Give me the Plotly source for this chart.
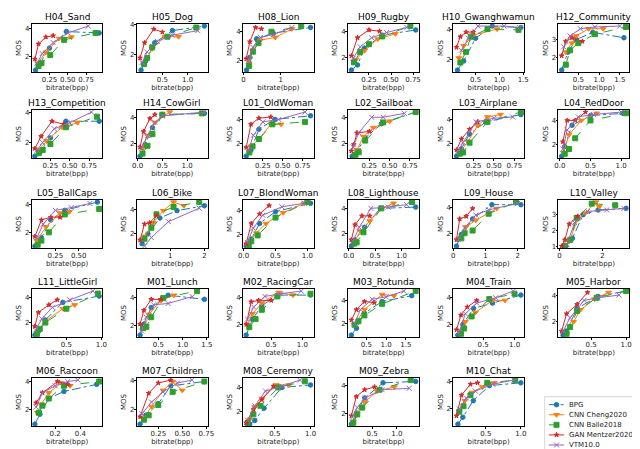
"""
MOS vs bitrate for each test image, five codecs per panel
"""
import plotly.graph_objects as go

METHODS = ["BPG", "CNN Cheng2020", "CNN Balle2018", "GAN Mentzer2020", "VTM10.0"]

# each image: one (bitrate, MOS) pair of lists per method, in METHODS order
H04_SAND = [
    ([0.06, 0.12, 0.25, 0.48, 0.93], [1.0, 1.5, 2.6, 3.8, 3.7]),
    ([0.09, 0.20, 0.38, 0.55], [1.5, 2.3, 3.3, 3.4]),
    ([0.10, 0.14, 0.26, 0.45, 0.88], [1.3, 1.5, 2.1, 3.2, 3.7]),
    ([0.05, 0.10, 0.20, 0.30], [1.8, 2.9, 3.4, 3.5]),
    ([0.08, 0.15, 0.30, 0.50, 0.78], [1.5, 2.2, 3.0, 3.7, 4.2]),
]
H05_DOG = [
    ([0.08, 0.17, 0.35, 0.70, 1.33], [1.0, 1.6, 2.8, 3.6, 3.9]),
    ([0.13, 0.30, 0.55, 0.82], [1.4, 2.4, 3.2, 3.2]),
    ([0.14, 0.20, 0.30, 0.60, 1.17], [1.4, 1.8, 2.5, 3.2, 3.8]),
    ([0.06, 0.15, 0.33, 0.50], [1.8, 2.8, 3.7, 3.5]),
    ([0.10, 0.20, 0.40, 0.70, 1.20], [1.5, 2.2, 2.9, 3.3, 3.6]),
]
H08_LION = [
    ([0.08, 0.17, 0.35, 0.80, 1.80], [1.3, 2.2, 3.5, 3.9, 4.3]),
    ([0.15, 0.25, 0.45, 0.85, 1.30], [1.8, 2.7, 3.4, 3.6, 4.2]),
    ([0.15, 0.25, 0.40, 0.75, 1.55], [1.6, 2.6, 3.2, 4.0, 4.4]),
    ([0.07, 0.17, 0.32, 0.48], [2.1, 3.3, 4.3, 4.2]),
    ([0.12, 0.25, 0.45, 0.80, 1.30], [1.9, 2.9, 3.6, 3.8, 4.3]),
]
H09_RUGBY = [
    ([0.05, 0.12, 0.20, 0.40, 0.78], [1.0, 1.4, 2.7, 3.7, 4.1]),
    ([0.10, 0.20, 0.35, 0.55], [1.8, 2.5, 3.4, 3.8]),
    ([0.08, 0.15, 0.25, 0.40, 0.72], [1.6, 2.4, 3.0, 3.6, 4.4]),
    ([0.05, 0.12, 0.25, 0.37], [2.1, 3.5, 4.1, 4.0]),
    ([0.07, 0.15, 0.28, 0.45, 0.68], [1.9, 2.8, 3.5, 3.9, 4.3]),
]
H10_GWANGHWAMUN = [
    ([0.12, 0.25, 0.50, 0.85, 1.45], [1.3, 1.9, 3.4, 4.2, 4.1]),
    ([0.15, 0.25, 0.45, 0.95], [2.1, 2.9, 3.6, 4.0]),
    ([0.18, 0.30, 0.40, 0.75, 1.40], [1.8, 2.5, 3.5, 4.0, 3.95]),
    ([0.10, 0.18, 0.30, 0.45], [2.8, 3.5, 3.8, 3.8]),
    ([0.20, 0.35, 0.55, 1.10, 1.42], [2.6, 3.4, 4.2, 4.2, 4.1]),
]
H12_COMMUNITY = [
    ([0.10, 0.25, 0.45, 0.85, 1.60], [1.3, 2.3, 3.0, 3.4, 3.1]),
    ([0.20, 0.35, 0.45, 0.75, 1.10], [2.3, 2.8, 3.2, 3.6, 3.6]),
    ([0.20, 0.30, 0.50, 0.90, 1.65], [1.6, 2.4, 2.8, 3.3, 3.7]),
    ([0.10, 0.20, 0.35, 0.60], [2.1, 2.9, 3.1, 2.9]),
    ([0.15, 0.30, 0.55, 0.90, 1.50], [2.6, 3.2, 3.6, 3.7, 3.75]),
]
H13_COMPETITION = [
    ([0.05, 0.12, 0.25, 0.45, 0.88], [1.1, 1.4, 2.3, 3.4, 3.4]),
    ([0.10, 0.20, 0.40, 0.60], [1.5, 2.1, 3.0, 3.3]),
    ([0.10, 0.15, 0.25, 0.45, 0.85], [1.3, 1.5, 1.9, 3.0, 3.7]),
    ([0.05, 0.13, 0.27, 0.42], [1.6, 2.4, 3.4, 3.2]),
    ([0.08, 0.15, 0.30, 0.50, 0.78], [1.5, 2.0, 2.9, 3.3, 4.0]),
]
H14_COWGIRL = [
    ([0.05, 0.15, 0.30, 0.50, 1.35], [1.0, 1.9, 3.2, 4.2, 4.3]),
    ([0.10, 0.20, 0.35, 0.65], [1.6, 2.6, 3.6, 4.4]),
    ([0.10, 0.20, 0.30, 0.50, 1.30], [1.2, 1.8, 2.7, 4.2, 4.3]),
    ([0.05, 0.12, 0.25, 0.35], [1.7, 2.9, 3.9, 4.2]),
    ([0.08, 0.20, 0.35, 0.50, 1.35], [1.6, 2.6, 3.6, 4.1, 4.4]),
]
L01_OLDWOMAN = [
    ([0.04, 0.10, 0.20, 0.40, 0.85], [1.0, 1.5, 3.2, 4.0, 4.3]),
    ([0.10, 0.20, 0.35, 0.48], [1.8, 2.4, 3.6, 3.6]),
    ([0.08, 0.12, 0.20, 0.37, 0.78], [1.3, 1.8, 2.4, 3.6, 3.8]),
    ([0.04, 0.10, 0.20, 0.35], [1.7, 3.6, 4.1, 4.2]),
    ([0.07, 0.13, 0.25, 0.45, 0.78], [1.5, 2.7, 3.8, 4.0, 4.6]),
]
L02_SAILBOAT = [
    ([0.04, 0.10, 0.20, 0.40, 0.82], [1.0, 1.4, 2.4, 3.5, 4.4]),
    ([0.10, 0.18, 0.30, 0.50], [1.5, 2.5, 3.2, 3.7]),
    ([0.08, 0.12, 0.20, 0.42, 0.82], [1.1, 1.3, 2.2, 3.6, 4.4]),
    ([0.03, 0.06, 0.10, 0.25], [1.4, 1.9, 2.8, 2.9]),
    ([0.05, 0.12, 0.28, 0.42, 0.68], [1.7, 2.8, 4.0, 4.0, 4.3]),
]
L03_AIRPLANE = [
    ([0.04, 0.10, 0.20, 0.40, 0.83], [1.0, 1.6, 2.8, 3.8, 4.4]),
    ([0.08, 0.18, 0.30, 0.42, 0.58], [1.3, 2.2, 3.5, 4.2, 4.4]),
    ([0.08, 0.12, 0.20, 0.42, 0.83], [1.2, 1.3, 2.1, 3.8, 4.6]),
    ([0.04, 0.10, 0.20, 0.30], [1.5, 2.4, 3.2, 3.8]),
    ([0.06, 0.12, 0.28, 0.50, 0.73], [1.4, 2.1, 3.8, 4.1, 4.2]),
]
L04_REDDOOR = [
    ([0.03, 0.08, 0.20, 0.50, 1.03], [1.0, 1.8, 3.6, 4.4, 4.6]),
    ([0.06, 0.15, 0.35, 0.60], [1.3, 2.8, 4.0, 4.6]),
    ([0.08, 0.15, 0.25, 0.50, 1.08], [1.2, 1.6, 2.5, 4.0, 4.6]),
    ([0.05, 0.12, 0.25, 0.42], [2.2, 4.0, 4.0, 4.7]),
    ([0.05, 0.12, 0.30, 0.55, 1.00], [1.6, 3.2, 4.3, 4.5, 4.7]),
]
L05_BALLCAPS = [
    ([0.03, 0.10, 0.20, 0.35, 0.70], [1.0, 1.6, 2.9, 3.6, 4.2]),
    ([0.05, 0.15, 0.30, 0.40], [1.4, 2.4, 3.4, 3.5]),
    ([0.06, 0.10, 0.18, 0.35, 0.72], [1.1, 1.4, 2.0, 3.3, 3.7]),
    ([0.03, 0.10, 0.20, 0.30], [1.7, 2.9, 3.1, 3.1]),
    ([0.05, 0.12, 0.25, 0.42, 0.62], [1.6, 2.6, 3.6, 3.8, 4.1]),
]
L06_BIKE = [
    ([0.18, 0.35, 0.70, 1.20, 2.00], [1.2, 2.0, 3.3, 3.9, 4.3]),
    ([0.25, 0.50, 0.80, 1.10, 1.40], [1.8, 2.9, 3.9, 4.6, 4.3]),
    ([0.25, 0.45, 0.60, 1.10, 1.85], [1.6, 2.5, 3.6, 4.2, 4.6]),
    ([0.12, 0.25, 0.40, 0.60], [1.5, 2.8, 2.9, 3.5]),
    ([0.25, 0.45, 0.95, 1.85], [1.0, 1.7, 3.0, 4.1]),
]
L07_BLONDWOMAN = [
    ([0.04, 0.12, 0.25, 0.50, 1.05], [1.0, 1.6, 2.9, 3.9, 4.6]),
    ([0.08, 0.20, 0.35, 0.62, 0.95], [1.3, 2.1, 2.9, 3.8, 4.6]),
    ([0.08, 0.12, 0.22, 0.50, 1.00], [1.0, 1.4, 1.9, 3.4, 4.7]),
    ([0.04, 0.12, 0.25, 0.40], [1.2, 2.9, 3.7, 4.4]),
    ([0.06, 0.15, 0.30, 0.60, 0.95], [1.3, 2.5, 3.6, 4.3, 4.6]),
]
L08_LIGHTHOUSE = [
    ([0.05, 0.12, 0.30, 0.60, 1.27], [1.0, 1.5, 2.5, 4.0, 4.1]),
    ([0.12, 0.22, 0.40, 0.62, 0.85], [1.4, 2.2, 3.0, 4.0, 4.4]),
    ([0.10, 0.15, 0.28, 0.62, 1.20], [1.2, 1.3, 2.1, 4.0, 4.5]),
    ([0.05, 0.12, 0.25, 0.40], [1.5, 2.7, 3.4, 3.4]),
    ([0.08, 0.20, 0.42, 0.75, 1.10], [1.4, 2.5, 4.0, 4.1, 4.3]),
]
L09_HOUSE = [
    ([0.10, 0.25, 0.60, 1.20, 2.10], [1.0, 1.9, 3.1, 4.2, 4.2]),
    ([0.20, 0.40, 0.70, 1.35], [1.6, 2.5, 3.0, 3.9]),
    ([0.25, 0.35, 0.60, 1.10, 1.95], [1.6, 2.0, 2.2, 3.5, 4.4]),
    ([0.10, 0.20, 0.40, 0.60], [1.5, 3.1, 3.3, 3.9]),
    ([0.15, 0.35, 0.70, 1.10, 2.00], [1.5, 2.4, 3.4, 3.8, 4.3]),
]
L10_VALLEY = [
    ([0.30, 0.60, 1.10, 1.80, 3.10], [1.0, 1.5, 3.0, 3.3, 3.4]),
    ([0.45, 0.85, 1.20, 1.70, 1.85], [1.3, 2.7, 3.1, 3.8, 3.5]),
    ([0.25, 0.50, 0.80, 1.50, 2.60], [1.0, 1.4, 2.8, 3.7, 3.6]),
    ([0.10, 0.25, 0.45, 0.85], [1.0, 1.4, 2.4, 2.9]),
    ([0.35, 0.70, 1.30, 2.20, 3.00], [1.1, 2.5, 3.2, 3.3, 3.4]),
]
L11_LITTLEGIRL = [
    ([0.05, 0.10, 0.20, 0.45, 0.97], [1.0, 1.3, 2.2, 3.6, 4.1]),
    ([0.08, 0.20, 0.45, 0.62], [1.2, 2.1, 3.1, 3.4]),
    ([0.08, 0.12, 0.20, 0.50, 0.95], [1.1, 1.5, 2.0, 3.1, 4.3]),
    ([0.05, 0.10, 0.25, 0.37], [1.7, 2.8, 3.4, 3.8]),
    ([0.06, 0.15, 0.30, 0.55, 0.88], [1.4, 2.3, 3.2, 3.8, 4.5]),
]
M01_LUNCH = [
    ([0.12, 0.20, 0.35, 0.70, 1.45], [1.3, 2.1, 3.3, 4.2, 3.9]),
    ([0.20, 0.30, 0.55, 0.82], [1.8, 2.8, 3.8, 4.2]),
    ([0.18, 0.25, 0.35, 0.60, 1.30], [1.8, 1.9, 2.6, 4.0, 4.5]),
    ([0.12, 0.20, 0.35, 0.55], [2.1, 3.1, 3.9, 3.9]),
    ([0.15, 0.25, 0.40, 0.70, 1.20], [1.6, 2.6, 3.5, 3.6, 4.1]),
]
M02_RACINGCAR = [
    ([0.10, 0.20, 0.35, 0.60, 1.13], [1.2, 2.4, 3.4, 4.2, 4.2]),
    ([0.12, 0.20, 0.35, 0.62, 0.85], [2.0, 2.8, 3.6, 4.4, 4.2]),
    ([0.15, 0.25, 0.35, 0.60, 1.13], [1.8, 2.4, 3.1, 4.1, 4.3]),
    ([0.10, 0.18, 0.30, 0.50], [2.0, 3.7, 3.8, 3.8]),
    ([0.12, 0.22, 0.40, 0.65, 0.98], [2.4, 3.3, 4.1, 4.3, 4.5]),
]
M03_ROTUNDA = [
    ([0.12, 0.25, 0.45, 0.90, 1.65], [1.0, 1.6, 2.9, 3.9, 4.4]),
    ([0.20, 0.45, 0.90, 1.20], [1.9, 3.2, 4.5, 4.4]),
    ([0.20, 0.30, 0.45, 0.90, 1.75], [1.9, 2.2, 2.7, 3.7, 4.8]),
    ([0.12, 0.25, 0.45, 0.70], [2.3, 3.2, 3.9, 3.8]),
    ([0.20, 0.35, 0.65, 1.00, 1.45], [2.0, 3.2, 4.1, 4.3, 4.8]),
]
M04_TRAIN = [
    ([0.10, 0.18, 0.35, 0.65, 1.10], [1.2, 2.0, 3.2, 3.6, 4.2]),
    ([0.15, 0.22, 0.38, 0.65, 0.85], [1.5, 2.2, 2.9, 3.8, 3.8]),
    ([0.15, 0.20, 0.32, 0.60, 1.00], [1.3, 1.7, 2.6, 3.9, 4.3]),
    ([0.08, 0.15, 0.25, 0.40], [1.6, 2.7, 3.3, 3.8]),
    ([0.12, 0.22, 0.40, 0.70, 0.98], [1.4, 2.8, 3.6, 4.0, 4.5]),
]
M05_HARBOR = [
    ([0.10, 0.15, 0.30, 0.60, 1.00], [1.0, 1.3, 3.0, 3.9, 4.3]),
    ([0.15, 0.25, 0.35, 0.55, 0.75], [1.1, 2.0, 2.9, 3.7, 4.2]),
    ([0.15, 0.20, 0.30, 0.58, 1.00], [1.1, 1.6, 2.8, 3.8, 4.3]),
    ([0.08, 0.15, 0.30, 0.45], [1.3, 2.6, 3.3, 4.2]),
    ([0.10, 0.20, 0.40, 0.60, 0.90], [1.3, 2.3, 3.6, 3.8, 4.0]),
]
M06_RACCOON = [
    ([0.04, 0.08, 0.15, 0.27, 0.53], [1.0, 1.7, 2.8, 3.3, 3.8]),
    ([0.06, 0.09, 0.15, 0.25, 0.32], [1.8, 2.4, 3.2, 3.9, 3.7]),
    ([0.07, 0.10, 0.15, 0.27, 0.55], [1.8, 2.3, 2.8, 3.7, 4.0]),
    ([0.05, 0.10, 0.22, 0.30], [2.5, 3.2, 4.0, 3.8]),
    ([0.05, 0.10, 0.20, 0.30, 0.38], [2.2, 3.2, 3.7, 4.0, 4.1]),
]
M07_CHILDREN = [
    ([0.06, 0.12, 0.25, 0.38, 0.73], [1.0, 1.6, 2.4, 3.6, 3.9]),
    ([0.10, 0.18, 0.30, 0.40, 0.50], [1.4, 2.2, 3.3, 3.9, 3.3]),
    ([0.10, 0.15, 0.25, 0.40, 0.73], [1.3, 1.6, 2.3, 3.2, 3.9]),
    ([0.06, 0.15, 0.25, 0.38], [1.5, 3.1, 3.8, 4.0]),
    ([0.08, 0.18, 0.30, 0.45, 0.60], [1.7, 2.5, 3.2, 3.8, 4.0]),
]
M08_CEREMONY = [
    ([0.15, 0.22, 0.35, 0.60, 1.00], [1.0, 1.3, 2.3, 4.0, 4.2]),
    ([0.15, 0.22, 0.32, 0.52, 0.70], [1.4, 2.4, 3.1, 4.2, 4.2]),
    ([0.12, 0.20, 0.30, 0.55, 0.92], [1.1, 1.8, 2.5, 4.0, 4.5]),
    ([0.10, 0.20, 0.32, 0.48], [1.1, 2.2, 3.0, 4.1]),
    ([0.12, 0.22, 0.37, 0.60, 0.85], [1.3, 2.5, 3.7, 4.1, 4.6]),
]
M09_ZEBRA = [
    ([0.08, 0.18, 0.35, 0.72, 1.38], [1.2, 2.0, 3.1, 4.2, 4.3]),
    ([0.12, 0.20, 0.35, 0.60, 0.95], [1.4, 2.0, 2.8, 3.6, 3.9]),
    ([0.12, 0.20, 0.30, 0.65, 1.28], [1.3, 1.9, 2.4, 3.7, 4.4]),
    ([0.08, 0.18, 0.35, 0.55], [1.8, 3.2, 3.7, 3.9]),
    ([0.10, 0.20, 0.35, 0.70, 1.25], [1.7, 2.4, 3.1, 3.7, 3.8]),
]
M10_CHAT = [
    ([0.10, 0.17, 0.32, 0.55, 1.00], [0.9, 1.4, 2.6, 3.7, 3.9]),
    ([0.12, 0.20, 0.30, 0.45, 0.62], [1.8, 2.6, 3.2, 3.6, 3.9]),
    ([0.12, 0.18, 0.28, 0.52, 0.92], [1.8, 2.2, 3.0, 3.9, 4.1]),
    ([0.08, 0.15, 0.28, 0.38], [1.5, 3.0, 3.8, 3.9]),
    ([0.12, 0.22, 0.35, 0.60, 0.90], [2.0, 2.8, 3.3, 3.8, 4.1]),
]

IMAGES = [
    ("H04_Sand", H04_SAND), ("H05_Dog", H05_DOG), ("H08_Lion", H08_LION),
    ("H09_Rugby", H09_RUGBY), ("H10_Gwanghwamun", H10_GWANGHWAMUN),
    ("H12_Community", H12_COMMUNITY), ("H13_Competition", H13_COMPETITION),
    ("H14_CowGirl", H14_COWGIRL), ("L01_OldWoman", L01_OLDWOMAN),
    ("L02_Sailboat", L02_SAILBOAT), ("L03_Airplane", L03_AIRPLANE),
    ("L04_RedDoor", L04_REDDOOR), ("L05_BallCaps", L05_BALLCAPS),
    ("L06_Bike", L06_BIKE), ("L07_BlondWoman", L07_BLONDWOMAN),
    ("L08_Lighthouse", L08_LIGHTHOUSE), ("L09_House", L09_HOUSE),
    ("L10_Valley", L10_VALLEY), ("L11_LittleGirl", L11_LITTLEGIRL),
    ("M01_Lunch", M01_LUNCH), ("M02_RacingCar", M02_RACINGCAR),
    ("M03_Rotunda", M03_ROTUNDA), ("M04_Train", M04_TRAIN),
    ("M05_Harbor", M05_HARBOR), ("M06_Raccoon", M06_RACCOON),
    ("M07_Children", M07_CHILDREN), ("M08_Ceremony", M08_CEREMONY),
    ("M09_Zebra", M09_ZEBRA), ("M10_Chat", M10_CHAT),
]

# x tick labels per panel (matplotlib picked these)
XTICKS = {
    "H04_Sand": ["0.25", "0.50", "0.75"], "H05_Dog": ["0.5", "1.0"],
    "H08_Lion": ["0", "1"], "H09_Rugby": ["0.25", "0.50", "0.75"],
    "H10_Gwanghwamun": ["0.5", "1.0", "1.5"], "H12_Community": ["0.5", "1.0", "1.5"],
    "H13_Competition": ["0.25", "0.50", "0.75"], "H14_CowGirl": ["0.0", "0.5", "1.0"],
    "L01_OldWoman": ["0.25", "0.50", "0.75"], "L02_Sailboat": ["0.25", "0.50", "0.75"],
    "L03_Airplane": ["0.25", "0.50", "0.75"], "L04_RedDoor": ["0.0", "0.5", "1.0"],
    "L05_BallCaps": ["0.25", "0.50"], "L06_Bike": ["1", "2"],
    "L07_BlondWoman": ["0.0", "0.5", "1.0"], "L08_Lighthouse": ["0.0", "0.5", "1.0"],
    "L09_House": ["0", "1", "2"], "L10_Valley": ["0", "2"],
    "L11_LittleGirl": ["0.5", "1.0"], "M01_Lunch": ["0.5", "1.0", "1.5"],
    "M02_RacingCar": ["0.5", "1.0"], "M03_Rotunda": ["0.5", "1.0", "1.5"],
    "M04_Train": ["0.5", "1.0"], "M05_Harbor": ["0.5", "1.0"],
    "M06_Raccoon": ["0.2", "0.4"], "M07_Children": ["0.25", "0.50", "0.75"],
    "M08_Ceremony": ["0.5", "1.0"], "M09_Zebra": ["0.5", "1.0"],
    "M10_Chat": ["0.5", "1.0"],
}
YTICKS = {"H12_Community": ["2", "3"], "L10_Valley": ["1", "2", "3"]}
DEFAULT_YTICKS = ["2", "4"]

# styles
COLORS = ["#1f77b4", "#ff7f0e", "#2ca02c", "#d62728", "#9467bd"]
SYMBOLS = ["circle", "triangle-down", "square", "star", "x-thin-open"]
MSIZES = [4.5, 5, 5, 3.5, 5]
DASHES = ["dashdot", "solid", "dash", "solid", "solid"]

W, H = 640, 449
COL_LEFT = [19, 126, 234, 341, 448, 555]
AX_W = 72
ROW_TOP = [13, 100, 191, 281, 371]
AX_H = 49
FONT = "DejaVu Sans"
TXT = "#222222"


def padded(vals):
    lo, hi = min(vals), max(vals)
    m = (hi - lo) * 0.05
    return [lo - m, hi + m]


fig = go.Figure()
layout = {}
annotations = []
shapes = []

common = dict(showgrid=False, zeroline=False, showline=True, mirror=True,
              linecolor="black", linewidth=0.8, ticks="outside", ticklen=2,
              tickwidth=0.8, tickcolor="black", ticklabelstandoff=-2,
              tickfont=dict(size=7, family=FONT, color=TXT))

for i, (name, series) in enumerate(IMAGES):
    r, c = divmod(i, 6)
    k = "" if i == 0 else str(i + 1)
    x0 = COL_LEFT[c] / W
    x1 = (COL_LEFT[c] + AX_W) / W
    y1 = 1 - ROW_TOP[r] / H
    y0 = 1 - (ROW_TOP[r] + AX_H) / H

    all_x, all_y = [], []
    for m, (xs, ys) in enumerate(series):
        all_x += xs
        all_y += ys
        fig.add_trace(go.Scatter(
            x=xs, y=ys, mode="lines+markers", name=METHODS[m],
            xaxis="x" + k, yaxis="y" + k, showlegend=False,
            line=dict(color=COLORS[m], width=1, dash=DASHES[m]),
            marker=dict(color=COLORS[m], symbol=SYMBOLS[m], size=MSIZES[m],
                        line=dict(color=COLORS[m], width=1)),
        ))

    xt = XTICKS[name]
    yt = YTICKS.get(name, DEFAULT_YTICKS)
    layout["xaxis" + k] = dict(
        common, domain=[x0, x1], anchor="y" + k, range=padded(all_x),
        tickvals=[float(t) for t in xt], ticktext=xt,
        title=dict(text="bitrate(bpp)", standoff=0,
                   font=dict(size=7, family=FONT, color=TXT)),
    )
    layout["yaxis" + k] = dict(
        common, domain=[y0, y1], anchor="x" + k, range=padded(all_y),
        tickvals=[float(t) for t in yt], ticktext=yt,
        title=dict(text="MOS", standoff=2,
                   font=dict(size=7, family=FONT, color=TXT)),
    )
    annotations.append(dict(
        text=name, x=(x0 + x1) / 2, y=y1, xref="paper", yref="paper",
        xanchor="center", yanchor="bottom", showarrow=False, yshift=0,
        font=dict(size=9, family=FONT, color="black"),
    ))

# legend drawn on its own small hidden axis so the rows can sit tight
lg = str(len(IMAGES) + 1)
layout["xaxis" + lg] = dict(domain=[545 / W, 561 / W], anchor="y" + lg,
                            range=[0, 1], visible=False, fixedrange=True)
layout["yaxis" + lg] = dict(domain=[1 - 445 / H, 1 - 392 / H], anchor="x" + lg,
                            range=[len(METHODS) - 0.4, -0.6], visible=False,
                            fixedrange=True)
for m, meth in enumerate(METHODS):
    fig.add_trace(go.Scatter(
        x=[0, 1], y=[m, m], mode="lines", xaxis="x" + lg, yaxis="y" + lg,
        showlegend=False, hoverinfo="skip",
        line=dict(color=COLORS[m], width=1, dash=DASHES[m]),
    ))
    fig.add_trace(go.Scatter(
        x=[0.5], y=[m], mode="markers", xaxis="x" + lg, yaxis="y" + lg,
        showlegend=False, name=meth,
        marker=dict(color=COLORS[m], symbol=SYMBOLS[m], size=MSIZES[m],
                    line=dict(color=COLORS[m], width=1)),
    ))
    annotations.append(dict(
        text=meth, x=1, y=m, xref="x" + lg, yref="y" + lg, xanchor="left",
        yanchor="middle", xshift=3, showarrow=False,
        font=dict(size=7, family=FONT, color=TXT),
    ))
shapes.append(dict(type="rect", xref="paper", yref="paper",
                   x0=541 / W, x1=637 / W, y0=1 - 447 / H, y1=1 - 390 / H,
                   line=dict(color="#cccccc", width=0.8), fillcolor="rgba(255,255,255,0.8)",
                   layer="below"))

fig.update_layout(
    **layout,
    annotations=annotations,
    shapes=shapes,
    width=W, height=H,
    margin=dict(l=0, r=0, t=0, b=0),
    paper_bgcolor="white", plot_bgcolor="white",
    font=dict(family=FONT),
    showlegend=False,
)

fig.write_html("out.html")
